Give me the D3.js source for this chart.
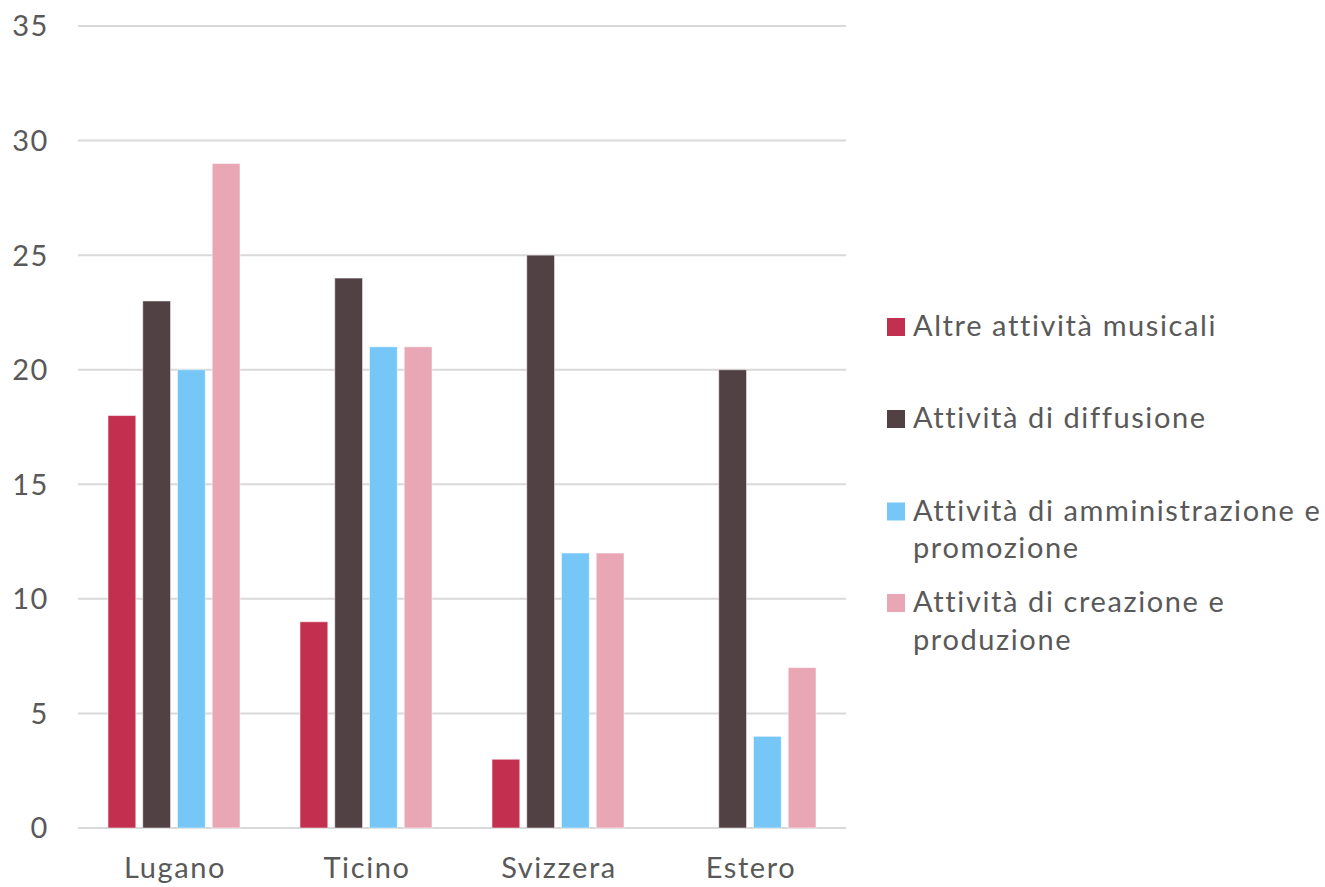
<!DOCTYPE html>
<html><head><meta charset="utf-8">
<script src="https://cdn.jsdelivr.net/npm/d3@7"></script>
<style>body{margin:0;background:#fff;} text{font-family:Lato,"Open Sans",sans-serif;fill:#595959;letter-spacing:1.6px;}</style>
</head><body><svg id="c" width="1325" height="887"></svg>
<script>
const categories = ["Lugano","Ticino","Svizzera","Estero"];
const seriesNames = ["Altre attività musicali","Attività di diffusione","Attività di amministrazione e promozione","Attività di creazione e produzione"];
const legendLines = [["Altre attività musicali"],["Attività di diffusione"],["Attività di amministrazione e","promozione"],["Attività di creazione e","produzione"]];
const altre = [18, 9, 3, 0];
const diffusione = [23, 24, 25, 20];
const amministrazione = [20, 21, 12, 4];
const creazione = [29, 21, 12, 7];
const colors = ["#C3304F","#514145","#76C6F8","#E9A7B6"];
const yTicks = [0,5,10,15,20,25,30,35];
const seriesValues = [altre, diffusione, amministrazione, creazione];

const svg = d3.select("#c");
const x0 = d3.scaleBand().domain(categories).range([78,846]).paddingInner(0.3125).paddingOuter(0.15625);
const x1 = d3.scaleBand().domain(d3.range(seriesNames.length)).range([0,x0.bandwidth()]).paddingInner(0.2);
const y = d3.scaleLinear().domain([0,35]).range([828,26]);

svg.append("g").selectAll("line").data(yTicks).join("line")
  .attr("x1",78).attr("x2",846).attr("y1",d=>y(d)).attr("y2",d=>y(d))
  .attr("stroke","#d9d9d9").attr("stroke-width",2);

svg.append("g").selectAll("text").data(yTicks).join("text")
  .attr("x",49).attr("y",d=>y(d)).attr("dy","0.36em").attr("text-anchor","end")
  .style("font-size","29px").text(d=>d);

const g = svg.append("g");
categories.forEach((c,ci)=>{
  seriesValues.forEach((vals,si)=>{
    const v = vals[ci];
    if (v<=0) return;
    g.append("rect").attr("x",x0(c)+x1(si)).attr("width",x1.bandwidth())
      .attr("y",y(v)).attr("height",y(0)-y(v)).attr("fill",colors[si])
      .attr("stroke","rgba(255,255,255,0.5)").attr("stroke-width",1);
  });
});

svg.append("g").selectAll("text").data(categories).join("text")
  .attr("x",d=>x0(d)+x0.bandwidth()/2+1).attr("y",878).attr("text-anchor","middle")
  .style("font-size","29px").text(d=>d);

const legY = [336, 428, 520.5, 612];
const lg = svg.append("g");
legendLines.forEach((lines,i)=>{
  lg.append("rect").attr("x",887).attr("y",legY[i]-18).attr("width",18).attr("height",18).attr("fill",colors[i]);
  lines.forEach((t,li)=>{
    lg.append("text").attr("x",913).attr("y",legY[i]+li*37.5).style("font-size","29px").text(t);
  });
});
</script></body></html>
